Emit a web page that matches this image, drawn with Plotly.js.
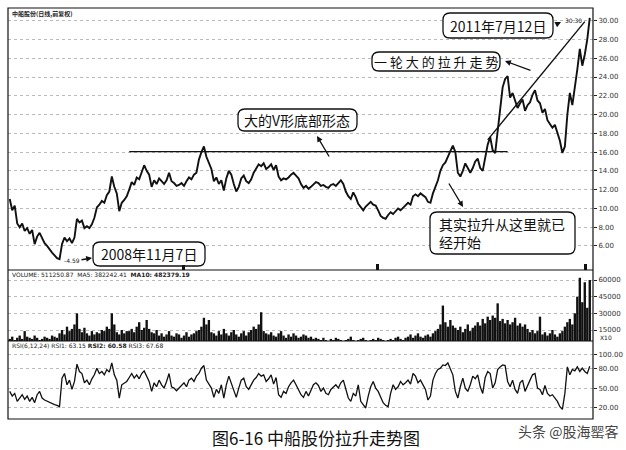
<!DOCTYPE html>
<html><head><meta charset="utf-8">
<script src="https://cdn.plot.ly/plotly-3.0.1.min.js"></script>
<style>body{margin:0;background:#fff}#chart{width:626px;height:450px}</style>
</head><body><div id="chart"></div>
<script>
// ---- data ----
const price = [
11.0, 9.8, 10.3, 8.4,
8.0, 8.4, 7.6, 7.9, 7.3, 7.7,
6.2, 7.0, 7.4, 6.8,
6.3, 6.0, 5.6, 5.3, 5.0, 4.7,
4.6, 6.2,
6.9, 6.5, 6.8, 6.3, 6.9,
8.9, 8.5, 8.7, 7.9,
8.1, 7.9, 8.3, 9.0, 10.1,
10.4, 10.8, 10.6, 11.4, 11.8,
13.4, 12.3, 11.6,
9.7, 10.6, 10.9, 11.3,
12.0, 12.8, 12.5, 13.3, 13.1, 13.9, 14.6, 14.0,
13.6, 12.3, 13.0, 12.6, 13.2, 12.9, 12.6, 13.0,
13.8, 12.9, 12.7, 12.4,
12.5, 12.7, 12.4, 12.9, 13.3, 13.1, 13.6, 13.8,
15.2, 16.0, 16.6, 15.5,
14.8, 14.2, 12.9, 13.3,
12.6, 13.0, 11.9, 13.2,
14.0, 13.6, 12.6, 11.8,
12.3, 13.2, 13.5, 12.9,
12.7, 13.1, 13.8, 14.2,
14.7, 14.5, 14.8, 14.2,
14.4, 14.7, 14.1, 14.6,
13.4, 13.0, 13.2, 13.1,
13.3, 13.6, 13.8, 13.5,
13.2, 12.6, 12.2, 12.4,
12.1, 12.3, 12.6, 12.8,
12.7, 12.4, 12.5, 12.3,
12.2, 12.5, 12.6, 12.4,
12.7, 13.0, 12.6, 11.8,
11.3, 11.0, 11.7, 11.2,
10.5, 10.1, 9.8, 10.2,
10.5, 10.7, 10.4, 10.3,
9.8, 9.2, 9.0, 8.9,
9.3, 9.6, 9.4, 9.7,
10.0, 9.8, 10.1, 10.3,
10.6, 10.4, 11.3, 11.5,
11.3, 11.6, 11.4, 11.2,
10.7, 10.6, 11.6, 12.3,
13.0, 14.0, 14.6, 14.9,
15.6, 16.1, 16.7, 16.0,
13.8, 13.4, 14.0, 14.8,
14.3, 13.8, 14.3, 15.0,
15.3, 14.3, 14.0, 15.5,
16.8, 17.6, 16.2, 15.9,
18.3, 20.1, 22.9, 23.8,
24.1, 21.8, 22.3, 21.5,
20.7, 21.2, 21.6, 20.4,
21.0, 21.3, 22.1, 22.6,
21.5, 21.2, 20.2, 20.6,
19.4, 19.0, 18.6, 18.9,
18.0, 17.2, 15.9, 16.6,
20.0, 22.3, 21.0, 22.8,
24.8, 27.0, 25.2, 26.4, 28.0, 30.3
];
// volume in thousands (axis shows X10 units)
const volume = [
7, 9, 6, 8, 10, 7, 14, 9, 8, 7, 10, 8, 6, 7, 9, 8, 7, 10, 9, 8,
12, 15, 11, 18, 14, 16, 20, 30, 16, 13, 17, 12, 10, 14, 11, 13,
12, 15, 14, 18, 16, 30, 20, 13, 11, 15, 12, 14,
14, 16, 13, 18, 22, 15, 17, 24, 16, 13, 12, 15,
10, 12, 9, 11, 14, 10, 9, 12, 11, 8, 10, 13, 9, 11, 12, 14,
15, 18, 26, 20, 24, 13,
12, 10, 14, 11, 16, 12, 10, 13, 15, 11, 9, 12, 14, 10, 13, 15,
18, 16, 20, 31, 14, 12,
11, 13, 10, 9, 12, 14, 10, 8, 11, 9, 12, 10, 8, 9, 11, 10, 8, 9, 7, 8,
7, 6, 8, 6, 5, 7, 6, 8, 7, 6, 5, 6, 7, 9, 6, 5, 6, 7, 8, 6, 5, 6, 7, 6, 8, 7, 6, 5, 6, 7, 6, 8, 9, 7, 6, 8,
9, 11, 8, 10, 12, 9, 8, 10, 11, 9, 12, 14,
16, 20, 37, 22, 18, 24, 19, 17,
15, 18, 13, 16, 20, 14, 17, 19,
22, 19, 25, 21, 27, 24, 28, 26, 39, 23, 25, 21, 24, 20, 22, 26, 19, 21, 18, 20,
16, 13, 15, 12, 14, 27, 11, 13, 10, 12, 15, 11, 9, 12, 14, 18,
22, 25, 20, 30, 45, 62, 40, 58, 35, 60
];
const rsi = [
45, 38, 42, 30, 35, 40, 33, 38, 30, 36,
28, 40, 45, 35, 32, 30, 28, 26, 25, 24,
22, 65, 72, 55, 62, 48, 60, 86, 75, 72,
58, 62, 55, 64, 70, 80, 72, 75, 70, 78,
74, 88, 70, 62, 35, 55, 58, 60, 66, 72,
65, 70, 64, 72, 76, 68, 60, 45, 58, 52,
62, 55, 50, 60, 72, 52, 50, 46, 50, 55,
58, 52, 62, 65, 60, 68, 72, 80, 84, 62,
55, 50, 36, 48, 42, 55, 35, 55, 68, 58,
48, 36, 50, 62, 65, 52, 48, 55, 62, 66,
72, 68, 70, 60, 64, 70, 56, 66, 40, 36,
45, 42, 52, 58, 62, 55, 48, 40, 36, 45,
38, 48, 55, 58, 54, 45, 50, 42, 40, 48,
52, 55, 50, 58, 62, 50, 35, 30, 42, 38,
55, 30, 25, 20, 38, 52, 60, 50, 45, 35,
28, 24, 22, 42, 55, 48, 52, 60, 55, 58,
62, 56, 72, 68, 58, 62, 55, 48, 32, 38,
62, 72, 78, 80, 85, 84, 88, 80, 70, 45,
35, 52, 65, 50, 45, 55, 68, 64, 70, 52,
42, 66, 75, 72, 50, 58, 78, 82, 85, 84,
60, 52, 62, 48, 42, 58, 62, 45, 55, 62,
70, 72, 50, 48, 40, 54, 42, 38, 40, 35,
30, 22, 18, 42, 82, 70, 78, 76, 82, 75,
80, 75, 72, 83
];
const priceTicks = [6, 8, 10, 12, 14, 16, 18, 20, 22, 24, 26, 28, 30];
const volTicks = [15, 30, 45, 60];
const volTickLabels = ['15000', '30000', '45000', '60000'];
const rsiTicks = [20, 50, 80, 100];
const necklineLevel = 16.05;
const necklineFrom = 48, necklineTo = 200;
const trendFrom = [192, 17.3], trendTo = [231, 29.9];

const idx = price.map((_, i) => i);

// ---- pixel helpers for annotations ----
const L = 8, R = 593, T = 8, B = 419;
const px = x => (x - L) / (R - L);
const py = y => (B - y) / (B - T);
function rrect(x0, y0, x1, y1, r) {
  const p = (x, y) => px(x).toFixed(5) + ',' + py(y).toFixed(5);
  return 'M' + p(x0 + r, y0) + ' L' + p(x1 - r, y0) + ' Q' + p(x1, y0) + ' ' + p(x1, y0 + r) +
    ' L' + p(x1, y1 - r) + ' Q' + p(x1, y1) + ' ' + p(x1 - r, y1) +
    ' L' + p(x0 + r, y1) + ' Q' + p(x0, y1) + ' ' + p(x0, y1 - r) +
    ' L' + p(x0, y0 + r) + ' Q' + p(x0, y0) + ' ' + p(x0 + r, y0) + ' Z';
}
const boxShape = (x0, y0, x1, y1) => ({type: 'path', xref: 'paper', yref: 'paper',
  path: rrect(x0, y0, x1, y1, 7), line: {color: '#111', width: 1.3}, fillcolor: 'rgba(255,255,255,1)', layer: 'above'});
const cjk = '"Noto Sans CJK SC", "Noto Sans", sans-serif';
const txt = (x, y, text, size, extra) => Object.assign({xref: 'paper', yref: 'paper', x: px(x), y: py(y),
  text: text, showarrow: false, font: {family: cjk, size: size, color: '#111'}, xanchor: 'center', yanchor: 'middle'}, extra || {});
const arrow = (hx, hy, tx, ty) => ({xref: 'paper', yref: 'paper', x: px(hx), y: py(hy), ax: tx - hx, ay: ty - hy,
  text: '', showarrow: true, arrowhead: 2, arrowsize: 0.9, arrowwidth: 1.3, arrowcolor: '#111'});
const small = (x, y, text, extra) => Object.assign({xref: 'paper', yref: 'paper', x: px(x), y: py(y), text: text,
  showarrow: false, font: {family: 'DejaVu Sans, sans-serif', size: 6, color: '#222'}, xanchor: 'left', yanchor: 'middle'}, extra || {});

const traces = [
  {type: 'scatter', mode: 'lines', x: idx, y: price, xaxis: 'x', yaxis: 'y',
   line: {color: '#111', width: 1.9}, hoverinfo: 'skip'},
  {type: 'bar', x: idx, y: volume, xaxis: 'x', yaxis: 'y2', marker: {color: '#111', line: {width: 0}}, hoverinfo: 'skip'},
  {type: 'scatter', mode: 'lines', x: idx, y: rsi, xaxis: 'x', yaxis: 'y3',
   line: {color: '#111', width: 1.3}, hoverinfo: 'skip'}
];

const tickFont = {family: 'DejaVu Sans, sans-serif', size: 7, color: '#333'};
const yCommon = {side: 'right', anchor: 'x', ticks: 'outside', ticklen: 3, tickcolor: '#222',
  tickfont: tickFont, showline: false, zeroline: false, gridcolor: '#bbb', griddash: 'dot', gridwidth: 1, fixedrange: true};

const layout = {
  width: 626, height: 450,
  margin: {l: L, r: 626 - R, t: T, b: 450 - B},
  paper_bgcolor: '#fff', plot_bgcolor: '#fff',
  showlegend: false, bargap: 0.05,
  xaxis: {range: [-0.7, 234.3], showticklabels: false, ticks: '', showgrid: false, zeroline: false, anchor: 'y3', fixedrange: true},
  yaxis: Object.assign({}, yCommon, {domain: [py(270), 1], range: [3.44, 31.35], tickvals: priceTicks, tickformat: '.2f'}),
  yaxis2: Object.assign({}, yCommon, {domain: [py(341), py(270)], range: [5.1, 69], tickvals: volTicks, ticktext: volTickLabels}),
  yaxis3: Object.assign({}, yCommon, {domain: [0, py(341)], range: [3.4, 121], tickvals: rsiTicks, tickformat: '.2f'}),
  shapes: [
    {type: 'rect', xref: 'paper', yref: 'paper', x0: 0, x1: 1, y0: 0, y1: 1, line: {color: '#111', width: 1.2}},
    {type: 'line', xref: 'paper', yref: 'paper', x0: 0, x1: 1, y0: py(270), y1: py(270), line: {color: '#111', width: 1.2}},
    {type: 'line', xref: 'paper', yref: 'paper', x0: 0, x1: 1, y0: py(341), y1: py(341), line: {color: '#111', width: 1.2}},
    {type: 'line', xref: 'x', yref: 'y', x0: necklineFrom, x1: necklineTo, y0: necklineLevel, y1: necklineLevel, line: {color: '#111', width: 1.4}},
    {type: 'line', xref: 'x', yref: 'y', x0: trendFrom[0], y0: trendFrom[1], x1: trendTo[0], y1: trendTo[1], line: {color: '#111', width: 1.4}},
    boxShape(443, 13, 553, 38),
    boxShape(372, 52, 500, 71),
    boxShape(238, 109, 357, 131),
    boxShape(430, 212, 575, 254),
    boxShape(93, 242, 205, 266),
    {type: 'rect', xref: 'paper', yref: 'paper', x0: px(182), x1: px(185), y0: py(270), y1: py(265), fillcolor: '#111', line: {width: 0}, layer: 'above'},
    {type: 'rect', xref: 'paper', yref: 'paper', x0: px(376), x1: px(379), y0: py(270), y1: py(264), fillcolor: '#111', line: {width: 0}, layer: 'above'},
    {type: 'rect', xref: 'paper', yref: 'paper', x0: px(584), x1: px(587), y0: py(270), y1: py(264), fillcolor: '#111', line: {width: 0}, layer: 'above'}
  ],
  annotations: [
    small(10, 14, '<b>中船股份(日线,前复权)</b>', {font: {family: cjk, size: 6, color: '#222'}}),
    small(10, 274, 'VOLUME: 511250.87  MA5: 382242.41  <b>MA10: 482379.19</b>'),
    small(10, 345, 'RSI(6,12,24) RSI1: 63.15 <b>RSI2: 60.58</b> RSI3: 67.68'),
    small(598, 337, 'X10'),
    small(62, 260, '-4.59'),
    small(563, 21, '30.30'),
    txt(498, 26, '2011年7月12日', 14),
    txt(436, 62, '一 轮 大 的 拉 升 走 势', 13),
    txt(297, 120, '大的V形底部形态', 14),
    txt(437, 233, '其实拉升从这里就已<br>经开始', 14, {xanchor: 'left', align: 'left'}),
    txt(149, 254, '2008年11月7日', 14),
    arrow(92, 258, 80, 260),
    arrow(561, 22, 555, 25),
    arrow(505, 61, 532, 71),
    arrow(317, 136, 330, 158),
    arrow(463, 207, 448, 182),
    {xref: 'paper', yref: 'paper', x: px(316), y: py(437), text: '图6-16 中船股份拉升走势图', showarrow: false,
     font: {family: cjk, size: 17, color: '#111'}, xanchor: 'center', yanchor: 'middle'},
    {xref: 'paper', yref: 'paper', x: px(568), y: py(431), text: '头条 @股海罂客', showarrow: false,
     font: {family: cjk, size: 14, color: '#444'}, xanchor: 'center', yanchor: 'middle'}
  ]
};

Plotly.newPlot('chart', traces, layout, {staticPlot: true, displayModeBar: false});
</script>
</body></html>
